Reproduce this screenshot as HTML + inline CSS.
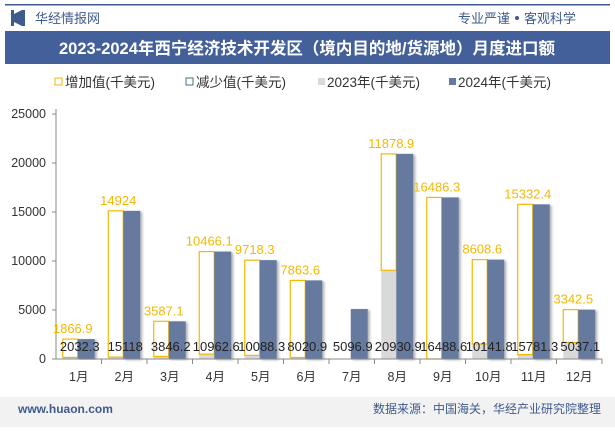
<!DOCTYPE html>
<html><head><meta charset="utf-8">
<style>
body{margin:0;width:615px;height:427px;overflow:hidden;background:#fff;font-family:"Liberation Sans","Noto Sans CJK SC",sans-serif;}
</style></head>
<body>
<svg id="c" width="615" height="427" xmlns="http://www.w3.org/2000/svg">
<defs><filter id="sh" x="-20%" y="-5%" width="160%" height="110%"><feDropShadow dx="2" dy="1" stdDeviation="1.2" flood-color="#000" flood-opacity="0.3"/></filter></defs>
<rect x="0" y="0" width="615" height="427" fill="#fff"/>
<rect x="5" y="4" width="605" height="1.5" fill="#3f5a8c"/>
<rect x="11" y="10" width="3" height="16" fill="#3f5a8c"/><rect x="22" y="10" width="3" height="16" fill="#3f5a8c"/><path d="M14 14 L22 10 L22 26 L14 22Z" fill="#3f5a8c"/>
<text x="35" y="23" font-size="13" fill="#3f5a8c">华经情报网</text>
<text x="510" y="23" font-size="13" fill="#3f5a8c" text-anchor="end">专业严谨</text>
<circle cx="517" cy="18" r="2" fill="#3f5a8c"/>
<text x="524" y="23" font-size="13" fill="#3f5a8c">客观科学</text>
<rect x="5" y="31" width="605" height="33" fill="#44609a"/>
<text x="307" y="54" font-size="16.5" font-weight="bold" fill="#fff" text-anchor="middle">2023-2024年西宁经济技术开发区（境内目的地/货源地）月度进口额</text>
<g font-size="13.5" fill="#333">
<rect x="55" y="78" width="7" height="7" fill="#fff" stroke="#f5b800"/><text x="65" y="87">增加值(千美元)</text>
<rect x="186" y="78" width="7" height="7" fill="#fff" stroke="#4a6d7c"/><text x="196" y="87">减少值(千美元)</text>
<rect x="318" y="78" width="7" height="7" fill="#d9d9d9"/><text x="327" y="87">2023年(千美元)</text>
<rect x="449" y="78" width="7" height="7" fill="#667aa0"/><text x="458" y="87">2024年(千美元)</text>
</g>
<g id="plot"></g>
<rect x="0" y="397" width="615" height="30" fill="#f2f2f2"/>
<text x="18" y="413" font-size="12" font-weight="bold" fill="#3f5a8c">www.huaon.com</text>
<text x="601" y="413" font-size="12" fill="#3f5a8c" text-anchor="end">数据来源：中国海关，华经产业研究院整理</text>
</svg>
<script>
const months=["1月","2月","3月","4月","5月","6月","7月","8月","9月","10月","11月","12月"];
const v2023=[165.4,194,259.1,496.5,370,157.3,0,9052,2.3,1533.2,448.9,1694.6];
const v2024=[2032.3,15118,3846.2,10962.6,10088.3,8020.9,5096.9,20930.9,16488.6,10141.8,15781.3,5037.1];
const increase=[1866.9,14924,3587.1,10466.1,9718.3,7863.6,null,11878.9,16486.3,8608.6,15332.4,3342.5];
const yTicks=[0,5000,10000,15000,20000,25000];
const NS="http://www.w3.org/2000/svg";
const g=document.getElementById('plot');
const X0=56,X1=602,Y0=359,Y1=114,YMAX=25000;
const bw=(X1-X0)/months.length;
const y=v=>Y0-(v/YMAX)*(Y0-Y1);
const cx=i=>X0+bw*(i+0.5);
function mk(t,a){const e=document.createElementNS(NS,t);for(const k in a)e.setAttribute(k,a[k]);g.appendChild(e);return e;}
let e=mk('line',{x1:X0,y1:Y1-5,x2:X0,y2:Y0,stroke:'#888'});


yTicks.forEach(t=>{
 let l=mk('text',{x:X0-10,y:y(t)+4,'font-size':12.5,fill:'#333','text-anchor':'end'});l.textContent=t;
 
 
 mk('line',{x1:X0-4,x2:X0,y1:y(t),y2:y(t),stroke:'#888'});
});
months.forEach((m,i)=>{
 const c=cx(i);
 let r=mk('rect',{x:c-16,y:y(v2023[i]),width:15,height:Y0-y(v2023[i]),fill:'#d9d9d9'});
 
 
 if(increase[i]!=null){
  let b=mk('rect',{x:c-16,y:y(v2024[i]),width:15,height:y(v2023[i])-y(v2024[i]),fill:'none',stroke:'#f5b800','stroke-width':1.2});
  
  
  let t=mk('text',{x:c-6,y:y(v2024[i])-6,'font-size':13,fill:'#f5b800','text-anchor':'middle'});t.textContent=increase[i];
  
  
 }
 let b2=mk('rect',{x:c-1,y:y(v2024[i]),width:17,height:Y0-y(v2024[i]),fill:'#667aa0',filter:'url(#sh)'});
 
 
 let t2=mk('text',{x:c+1,y:Y0-8,'font-size':13,fill:'#222','text-anchor':'middle'});t2.textContent=v2024[i];
 
 
 let xl=mk('text',{x:c,y:Y0+22,'font-size':12.5,fill:'#333','text-anchor':'middle'});xl.textContent=m;
 
 
 mk('line',{x1:X0+bw*(i+1),x2:X0+bw*(i+1),y1:Y0,y2:Y0+5,stroke:'#888'});
});
e=mk('line',{x1:X0-4,y1:Y0,x2:X1,y2:Y0,stroke:'#888'});


</script>
</body></html>
